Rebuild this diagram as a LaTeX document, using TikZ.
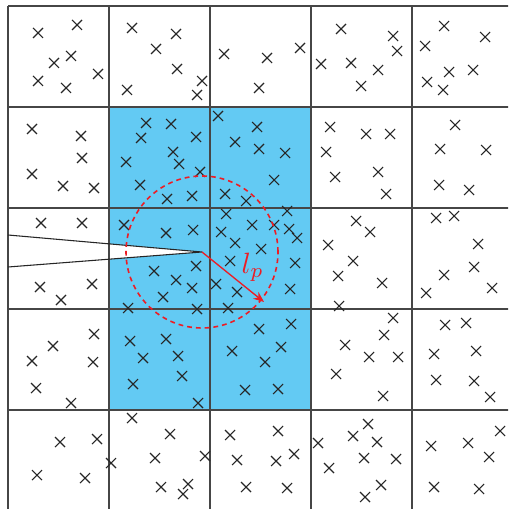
\documentclass[tikz,border=0pt]{standalone}
\usetikzlibrary{arrows.meta}
\definecolor{cellblue}{RGB}{99,202,243}
\definecolor{gridgray}{RGB}{70,70,70}
\definecolor{lpred}{RGB}{237,28,36}
\tikzset{
  gridline/.style={draw=gridgray, line width=0.95pt},
  wedgeline/.style={draw=black!85, line width=0.8pt},
  xmark/.style={draw=black!85, line width=0.8pt},
  bluecell/.style={fill=cellblue},
  radcircle/.style={draw=lpred, line width=1.2pt, dash pattern=on 3.6pt off 3pt},
  radarrow/.style={draw=lpred, line width=1pt, -{Stealth[length=8pt,width=6.5pt]}},
  radlabel/.style={text=lpred, inner sep=0pt, anchor=base west, scale=2.2}
}
\begin{document}
\begin{tikzpicture}[x=0.75pt,y=-0.75pt]
\useasboundingbox (0,0) rectangle (508,509);
\clip (0,0) rectangle (508,509);
\fill[white] (0,0) rectangle (508,509);
% blue cells
\foreach \cx in {109,210}{
  \foreach \cy in {107,208,309}{
    \fill[bluecell] (\cx+1.3,\cy+1.3) rectangle (\cx+99.7,\cy+99.7);
  }
}
% wedge
\coordinate (c) at (202,252);
\coordinate (wa) at (8,235);
\coordinate (wb) at (8,267);
\fill[white] (wa) -- (c) -- (wb) -- cycle;
% grid
\foreach \g in {8,109,210,311,412,513}{
  \draw[gridline] (\g,6) -- (\g,511);
}
\foreach \g in {6,107,208,309,410,511}{
  \draw[gridline] (8,\g) -- (513,\g);
}
\draw[wedgeline] (wa) -- (c) -- (wb);
% crosses
\foreach \px/\py in {
 38/33,77/25,71/56,54/63,38/81,66/88,98/74,
 132/28,176/34,156/49,177/69,127/90,202/81,197/95,
 224/54,259/88,267/58,300/48,
 341/29,393/36,397/51,321/64,351/63,378/70,361/86,
 444/26,485/37,425/46,449/72,473/70,427/82,443/90,
 32/129,81/136,82/158,32/174,63/186,94/188,
 146/123,171/124,141/138,196/137,173/152,179/164,126/162,200/172,140/185,167/199,192/196,
 218/116,257/127,235/142,259/149,285/153,274/180,225/194,246/201,
 330/127,366/134,390/134,326/152,335/177,378/172,386/194,
 455/125,440/149,486/150,439/185,469/190,
 41/223,82/223,40/287,92/284,61/300,
 124/225,166/233,193/230,154/271,196/266,176/280,192/288,163/297,128/308,197/309,
 226/214,287/211,221/232,252/225,274/225,289/229,297/238,235/243,261/249,230/261,295/263,216/284,237/292,290/289,228/308,
 356/221,370/232,328/245,353/261,338/276,382/283,339/306,
 436/218,454/216,478/244,444/275,474/267,426/293,492/288,
 94/334,53/346,32/361,93/362,36/388,71/403,
 130/341,166/339,143/358,178/356,182/376,133/384,198/403,
 232/351,245/390,259/329,291/324,281/347,265/362,278/389,
 393/318,384/335,345/345,369/357,398/357,336/374,383/396,
 445/325,466/323,434/354,476/351,436/380,474/381,490/397,
 60/442,97/439,37/475,85/478,
 132/418,170/434,111/463,155/458,205/456,161/487,188/484,183/494,
 230/435,237/460,246/487,278/431,294/454,276/461,287/488,
 318/443,353/436,368/424,377/442,364/458,396/459,329/468,381/485,365/497,
 431/446,468/443,500/431,489/457,434/487,479/489}{
  \draw[xmark] (\px-5,\py-5) -- (\px+5,\py+5) (\px-5,\py+5) -- (\px+5,\py-5);
}
% radius circle and arrow
\draw[radcircle] (c) circle[radius=57pt];
\coordinate (t) at (264,302);
\draw[radarrow] (c) -- (t);
\node[radlabel] (lp) at (241,273) {$l_p$};
\end{tikzpicture}
\end{document}
